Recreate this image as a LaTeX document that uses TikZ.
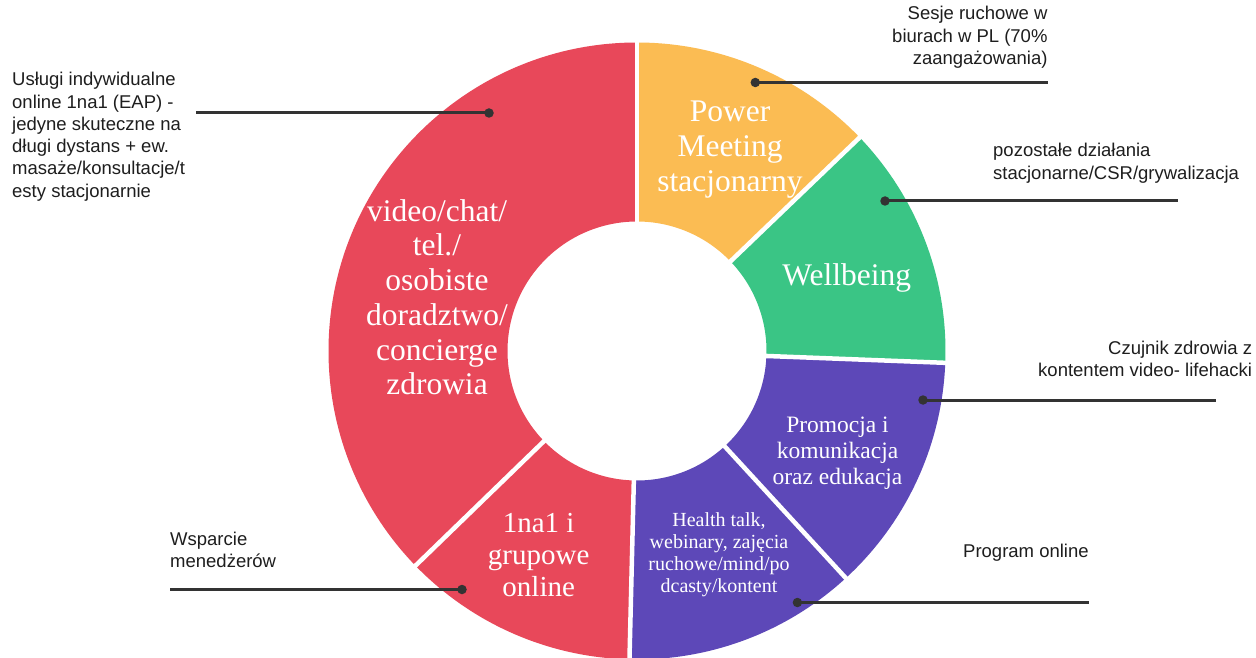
\documentclass[tikz,border=0pt]{standalone}
\usepackage{fontspec}
\setmainfont{Liberation Serif}
\newfontfamily\labelfont{Liberation Sans}
\definecolor{cred}{RGB}{232,72,90}
\definecolor{cyellow}{RGB}{251,188,83}
\definecolor{cgreen}{RGB}{58,197,133}
\definecolor{cpurple}{RGB}{93,72,184}
\definecolor{cline}{RGB}{51,51,51}
\definecolor{ctext}{RGB}{30,30,30}
\newcommand\donutseg[3]{\fill[#1,shift={(637,306)}] (#2:308.5) arc[start angle=#2,end angle=#3,radius=308.5] -- (#3:129.5) arc[start angle=#3,end angle=#2,radius=129.5] -- cycle;}
\newcommand\gapat[1]{\draw[gapline,shift={(637,306)}] (#1:126) -- (#1:312);}
\begin{document}
\begin{tikzpicture}[x=1pt,y=1pt,
  gapline/.style={draw=white,line width=4.5pt},
  conn/.style={draw=cline,line width=3pt},
  dotmark/.style={circle,fill=cline,inner sep=0pt,minimum size=9.5pt},
  lbl/.style={font={\labelfont\fontsize{18.5}{22.3}\selectfont},text=ctext,inner sep=0pt},
  segtext/.style={text=white,align=center,inner sep=0pt,anchor=base}]
\fill[white] (0,0) rectangle (1256,657);
\useasboundingbox (0,0) rectangle (1256,657);
% donut segments
\donutseg{cred}{90}{224.1}
\donutseg{cred}{224.1}{268.6}
\donutseg{cpurple}{268.6}{312.6}
\donutseg{cpurple}{312.6}{357.8}
\donutseg{cgreen}{-2.2}{43.8}
\donutseg{cyellow}{43.8}{90}
% white gaps
\gapat{90}
\gapat{224.1}
\gapat{268.6}
\gapat{312.6}
\gapat{357.8}
\gapat{43.8}
% connectors
\node[dotmark] (d1) at (489,544) {};
\coordinate (e1) at (196,544);
\draw[conn] (d1.center) -- (e1);
\node[dotmark] (d2) at (755.3,574.5) {};
\coordinate (e2) at (1047.7,574.5);
\draw[conn] (d2.center) -- (e2);
\node[dotmark] (d3) at (885,456) {};
\coordinate (e3) at (1178,456);
\draw[conn] (d3.center) -- (e3);
\node[dotmark] (d4) at (923,257) {};
\coordinate (e4) at (1216,257);
\draw[conn] (d4.center) -- (e4);
\node[dotmark] (d5) at (797.4,54.5) {};
\coordinate (e5) at (1089,54.5);
\draw[conn] (d5.center) -- (e5);
\node[dotmark] (d6) at (462,67.5) {};
\coordinate (e6) at (170,67.5);
\draw[conn] (d6.center) -- (e6);
% outer labels (anchor base = last line baseline)
\node[lbl,align=left,anchor=base west] (l1) at (12,459.7) {Usługi indywidualne\\online 1na1 (EAP) -\\jedyne skuteczne na\\długi dystans + ew.\\masaże/konsultacje/t\\esty stacjonarnie};
\node[lbl,align=right,anchor=base east] (l2) at (1047.7,592.4) {Sesje ruchowe w\\biurach w PL (70\%\\zaangażowania)};
\node[lbl,align=left,anchor=base west] (l3) at (993,477.7) {pozostałe działania\\stacjonarne/CSR/grywalizacja};
\node[lbl,align=right,anchor=base east] (l4) at (1252.3,280.3) {Czujnik zdrowia z\\kontentem video- lifehacki};
\node[lbl,anchor=base west] (l5) at (963,99.7) {Program online};
\node[lbl,align=left,anchor=base west] (l6) at (170,89.7) {Wsparcie\\menedżerów};
% segment texts
\node[segtext,font={\fontsize{31.5}{34.8}\selectfont}] (t1) at (437,262) {video/chat/\\tel./\\osobiste\\doradztwo/\\concierge\\zdrowia};
\node[segtext,font={\fontsize{31.5}{35}\selectfont}] (t2) at (730,465) {Power\\Meeting\\stacjonarny};
\node[segtext,font={\fontsize{31.5}{35}\selectfont}] (t3) at (846.7,371) {Wellbeing};
\node[segtext,font={\fontsize{23.5}{25.8}\selectfont}] (t4) at (837.5,173) {Promocja i\\komunikacja\\oraz edukacja};
\node[segtext,font={\fontsize{20}{22}\selectfont}] (t5) at (719,65) {Health talk,\\webinary, zajęcia\\ruchowe/mind/po\\dcasty/kontent};
\node[segtext,font={\fontsize{29}{32}\selectfont}] (t6) at (538.7,61) {1na1 i\\grupowe\\online};
\end{tikzpicture}
\end{document}
